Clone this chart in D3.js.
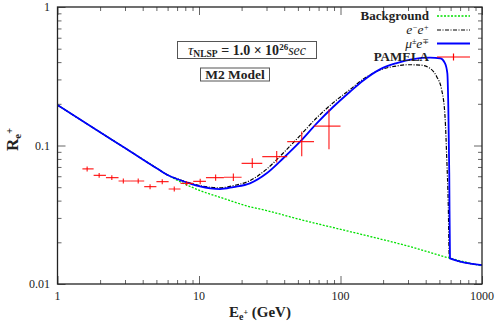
<!DOCTYPE html>
<html><head><meta charset="utf-8">
<script src="https://cdn.jsdelivr.net/npm/d3@7"></script>
<style>body{margin:0;background:#fff}svg{display:block}</style>
</head><body><svg id="c" width="498" height="332"></svg>
<script>
// ---- data ----
const xTickValues = [1, 10, 100, 1000];
const xTickLabels = ["1", "10", "100", "1000"];
const yTickValues = [0.01, 0.1, 1];
const yTickLabels = ["0.01", "0.1", "1"];

const bgE = [1, 2, 3, 5, 6, 7, 8, 10, 15, 22.9, 30, 50, 116.7, 200, 300, 597, 1000];
const bgR = [0.196, 0.1247, 0.0959, 0.0689, 0.0612, 0.0562, 0.0525, 0.0476, 0.0414, 0.0361, 0.0339, 0.0295, 0.0239, 0.0209, 0.0188, 0.01533, 0.0135];

const muE = [1, 2, 3, 5.16, 6, 7, 8, 9, 10.17, 12, 14.06, 17.5, 22.9, 30.1, 39.4, 51.8, 67.9, 89, 116.7, 144.9, 190, 249.5, 326.8, 429.2, 505, 548, 569, 578, 587, 594, 1000];
const muR = [0.196, 0.1247, 0.0959, 0.0673, 0.0612, 0.0573, 0.0545, 0.0524, 0.0506, 0.0490, 0.0484, 0.0501, 0.0533, 0.0630, 0.0809, 0.1065, 0.1445, 0.1905, 0.2446, 0.295, 0.3548, 0.3936, 0.4211, 0.4305, 0.4266, 0.3922, 0.3319, 0.1905, 0.0630, 0.01533, 0.0137];

const eeE = [1, 2, 3, 5.16, 6, 7, 8, 9, 10.17, 12, 14.06, 17.5, 22.9, 30.1, 39.4, 51.8, 67.9, 89, 116.7, 144.9, 190, 249.5, 300, 364.6, 429, 478.6, 519, 548, 563, 578, 587, 594, 1000];
const eeR = [0.196, 0.1247, 0.0959, 0.0673, 0.0612, 0.0575, 0.0549, 0.0530, 0.0513, 0.0499, 0.0495, 0.0513, 0.0558, 0.0676, 0.0883, 0.118, 0.1585, 0.204, 0.2535, 0.302, 0.3508, 0.375, 0.383, 0.381, 0.3606, 0.314, 0.2518, 0.1614, 0.083, 0.0361, 0.01574, 0.01533, 0.0137];

const pamE   = [1.62, 1.97, 2.42, 2.92, 3.72, 4.51, 5.50, 6.69, 8.19, 10.2, 13.1, 17.5, 23.8, 35.4, 53.2, 82.9];
const pamR   = [0.0677, 0.0609, 0.0586, 0.0554, 0.0554, 0.0504, 0.0548, 0.0485, 0.0533, 0.055, 0.0586, 0.059, 0.0744, 0.083, 0.1065, 0.138];
const pamElo = [1.5, 1.8, 2.2, 2.7, 3.3, 4.1, 5.0, 6.1, 7.4, 9.1, 11.2, 15, 20, 28, 42, 65];
const pamEhi = [1.8, 2.2, 2.7, 3.3, 4.1, 5.0, 6.1, 7.4, 9.1, 11.2, 15, 20, 28, 42, 65, 100];
const pamRlo = [0.065, 0.0585, 0.0563, 0.0532, 0.0532, 0.0484, 0.0526, 0.0466, 0.0512, 0.0526, 0.0556, 0.0555, 0.0688, 0.0753, 0.0838, 0.094];
const pamRhi = [0.0705, 0.0634, 0.061, 0.0577, 0.0577, 0.0525, 0.0571, 0.0505, 0.0555, 0.0575, 0.0617, 0.0628, 0.0808, 0.0913, 0.126, 0.183];

const legendLabels = ["Background", "e\u2212e+", "\u03bc\u00b1e\u2213", "PAMELA"];

// ---- drawing ----
const svg = d3.select("#c");
const L = 57.5, R = 482, T = 7, B = 284;
const x = d3.scaleLog().domain([1, 1000]).range([L, R]);
const y = d3.scaleLog().domain([0.01, 1]).range([B, T]);
const serif = "'Liberation Serif', 'DejaVu Serif', serif";

const minorX = [], minorY = [];
for (let d = 1; d < 1000; d *= 10) for (let k = 2; k <= 9; k++) minorX.push(d * k);
for (let d = 0.01; d < 0.9; d *= 10) for (let k = 2; k <= 9; k++) minorY.push(d * k);

function styleAxis(g) {
  g.select(".domain").remove();
  g.selectAll(".tick line").attr("stroke", "#666").attr("stroke-width", 1);
  g.selectAll("text").remove();
}
svg.append("g").attr("transform", `translate(0,${B})`).call(d3.axisBottom(x).tickValues(xTickValues).tickSize(-8)).call(styleAxis);
svg.append("g").attr("transform", `translate(0,${B})`).call(d3.axisBottom(x).tickValues(minorX).tickSize(-4)).call(styleAxis);
svg.append("g").attr("transform", `translate(0,${T})`).call(d3.axisTop(x).tickValues(xTickValues).tickSize(-8)).call(styleAxis);
svg.append("g").attr("transform", `translate(0,${T})`).call(d3.axisTop(x).tickValues(minorX).tickSize(-4)).call(styleAxis);
svg.append("g").attr("transform", `translate(${L},0)`).call(d3.axisLeft(y).tickValues(yTickValues).tickSize(-8)).call(styleAxis);
svg.append("g").attr("transform", `translate(${L},0)`).call(d3.axisLeft(y).tickValues(minorY).tickSize(-4)).call(styleAxis);
svg.append("g").attr("transform", `translate(${R},0)`).call(d3.axisRight(y).tickValues(yTickValues).tickSize(-8)).call(styleAxis);
svg.append("g").attr("transform", `translate(${R},0)`).call(d3.axisRight(y).tickValues(minorY).tickSize(-4)).call(styleAxis);

// tick labels
svg.append("g").selectAll("text").data(xTickValues).join("text")
  .attr("x", d => x(d)).attr("y", 300).attr("text-anchor", "middle")
  .attr("font-family", serif).attr("font-size", 12).attr("fill", "#222")
  .text((d, i) => xTickLabels[i]);
svg.append("g").selectAll("text").data(yTickValues).join("text")
  .attr("x", 50).attr("y", d => y(d) + 4).attr("text-anchor", "end")
  .attr("font-family", serif).attr("font-size", 12).attr("fill", "#222")
  .text((d, i) => yTickLabels[i]);

// clip
svg.append("clipPath").attr("id", "clip").append("rect").attr("x", L).attr("y", T).attr("width", R - L).attr("height", B - T);
const plot = svg.append("g").attr("clip-path", "url(#clip)");
const line = d3.line().x(d => x(d[0])).y(d => y(d[1])).curve(d3.curveMonotoneX);

plot.append("path").attr("d", line(d3.zip(bgE, bgR))).attr("fill", "none")
  .attr("stroke", "#00e000").attr("stroke-width", 1.3).attr("stroke-dasharray", "2,1.5");
plot.append("path").attr("d", line(d3.zip(eeE, eeR))).attr("fill", "none")
  .attr("stroke", "#000").attr("stroke-width", 1.2).attr("stroke-dasharray", "4,1.5,1,1.5");
plot.append("path").attr("d", line(d3.zip(muE, muR))).attr("fill", "none")
  .attr("stroke", "#0000ff").attr("stroke-width", 1.8);

// PAMELA
const pg = plot.append("g").attr("stroke", "#ff0000").attr("stroke-width", 1.2).attr("stroke-opacity", 0.85);
pamE.forEach((e, i) => {
  pg.append("line").attr("x1", x(pamElo[i])).attr("x2", x(pamEhi[i])).attr("y1", y(pamR[i])).attr("y2", y(pamR[i]));
  pg.append("line").attr("x1", x(e)).attr("x2", x(e)).attr("y1", y(pamRlo[i])).attr("y2", y(pamRhi[i]));
});

// frame
svg.append("rect").attr("x", L).attr("y", T).attr("width", R - L).attr("height", B - T)
  .attr("fill", "none").attr("stroke", "#222").attr("stroke-width", 1.3);

// legend
const lg = svg.append("g").attr("font-family", serif).attr("font-size", 13).attr("font-weight", "bold").attr("fill", "#222");
const rows = [16, 30, 43.5, 57];
lg.append("text").attr("x", 429).attr("y", rows[0] + 3.5).attr("text-anchor", "end").text(legendLabels[0]);
const t1 = lg.append("text").attr("x", 429).attr("y", rows[1] + 4).attr("text-anchor", "end").attr("font-style", "italic").attr("font-weight", "normal").attr("font-size", 13.5);
t1.append("tspan").text("e");
t1.append("tspan").attr("dy", -4).attr("font-size", 8).text("\u2212");
t1.append("tspan").attr("dy", 4).text("e");
t1.append("tspan").attr("dy", -4).attr("font-size", 8).text("+");
const t2 = lg.append("text").attr("x", 429).attr("y", rows[2] + 4).attr("text-anchor", "end").attr("font-style", "italic").attr("font-weight", "normal").attr("font-size", 13.5);
t2.append("tspan").text("\u03bc");
t2.append("tspan").attr("dy", -4).attr("font-size", 8).text("\u00b1");
t2.append("tspan").attr("dy", 4).text("e");
t2.append("tspan").attr("dy", -4).attr("font-size", 8).text("\u2213");
lg.append("text").attr("x", 429).attr("y", rows[3] + 4).attr("text-anchor", "end").text(legendLabels[3]);

svg.append("line").attr("x1", 437).attr("x2", 470).attr("y1", rows[0]).attr("y2", rows[0])
  .attr("stroke", "#00e000").attr("stroke-width", 1.3).attr("stroke-dasharray", "2,1.5");
svg.append("line").attr("x1", 437).attr("x2", 470).attr("y1", rows[1]).attr("y2", rows[1])
  .attr("stroke", "#000").attr("stroke-width", 1.2).attr("stroke-dasharray", "4,1.5,1,1.5");
svg.append("line").attr("x1", 437).attr("x2", 470).attr("y1", rows[2]).attr("y2", rows[2])
  .attr("stroke", "#0000ff").attr("stroke-width", 1.8);
svg.append("line").attr("x1", 437).attr("x2", 470).attr("y1", rows[3]).attr("y2", rows[3])
  .attr("stroke", "#ff0000").attr("stroke-width", 1.2);
svg.append("line").attr("x1", 453.5).attr("x2", 453.5).attr("y1", rows[3] - 3.5).attr("y2", rows[3] + 3.5)
  .attr("stroke", "#ff0000").attr("stroke-width", 1.2);

// annotation boxes
svg.append("rect").attr("x", 177.5).attr("y", 41.5).attr("width", 139).attr("height", 17)
  .attr("fill", "#fff").attr("stroke", "#555").attr("stroke-width", 1);
const a1 = svg.append("text").attr("x", 247).attr("y", 54.5).attr("text-anchor", "middle")
  .attr("font-family", serif).attr("font-size", 14).attr("font-weight", "bold").attr("fill", "#222");
a1.append("tspan").attr("font-style", "italic").attr("font-weight", "normal").attr("font-size", 15).text("\u03c4");
a1.append("tspan").attr("dy", 2).attr("font-size", 9.5).text("NLSP");
a1.append("tspan").attr("dy", -2).text(" = 1.0 \u00d7 10");
a1.append("tspan").attr("dy", -5).attr("font-size", 9).text("26");
a1.append("tspan").attr("dy", 5).attr("font-style", "italic").attr("font-weight", "normal").text("sec");

svg.append("rect").attr("x", 200.5).attr("y", 68).attr("width", 69).attr("height", 13)
  .attr("fill", "#fff").attr("stroke", "#555").attr("stroke-width", 1);
svg.append("text").attr("x", 235).attr("y", 79).attr("text-anchor", "middle")
  .attr("font-family", serif).attr("font-size", 13.5).attr("font-weight", "bold").attr("fill", "#222").text("M2 Model");

// axis titles
const xt = svg.append("text").attr("x", 229).attr("y", 317).attr("font-family", serif)
  .attr("font-size", 15).attr("font-weight", "bold").attr("fill", "#222");
xt.append("tspan").text("E");
xt.append("tspan").attr("dy", 3).attr("font-size", 10).text("e");
xt.append("tspan").attr("dy", -5).attr("font-size", 8).text("+");
xt.append("tspan").attr("dy", 2).text(" (GeV)");

const yt = svg.append("text").attr("transform", "translate(18,151) rotate(-90)").attr("font-family", serif)
  .attr("font-size", 17).attr("font-weight", "bold").attr("fill", "#222");
yt.append("tspan").text("R");
yt.append("tspan").attr("dy", 3).attr("font-size", 11).text("e");
yt.append("tspan").attr("dy", -8).attr("font-size", 10).text("+");
</script></body></html>
